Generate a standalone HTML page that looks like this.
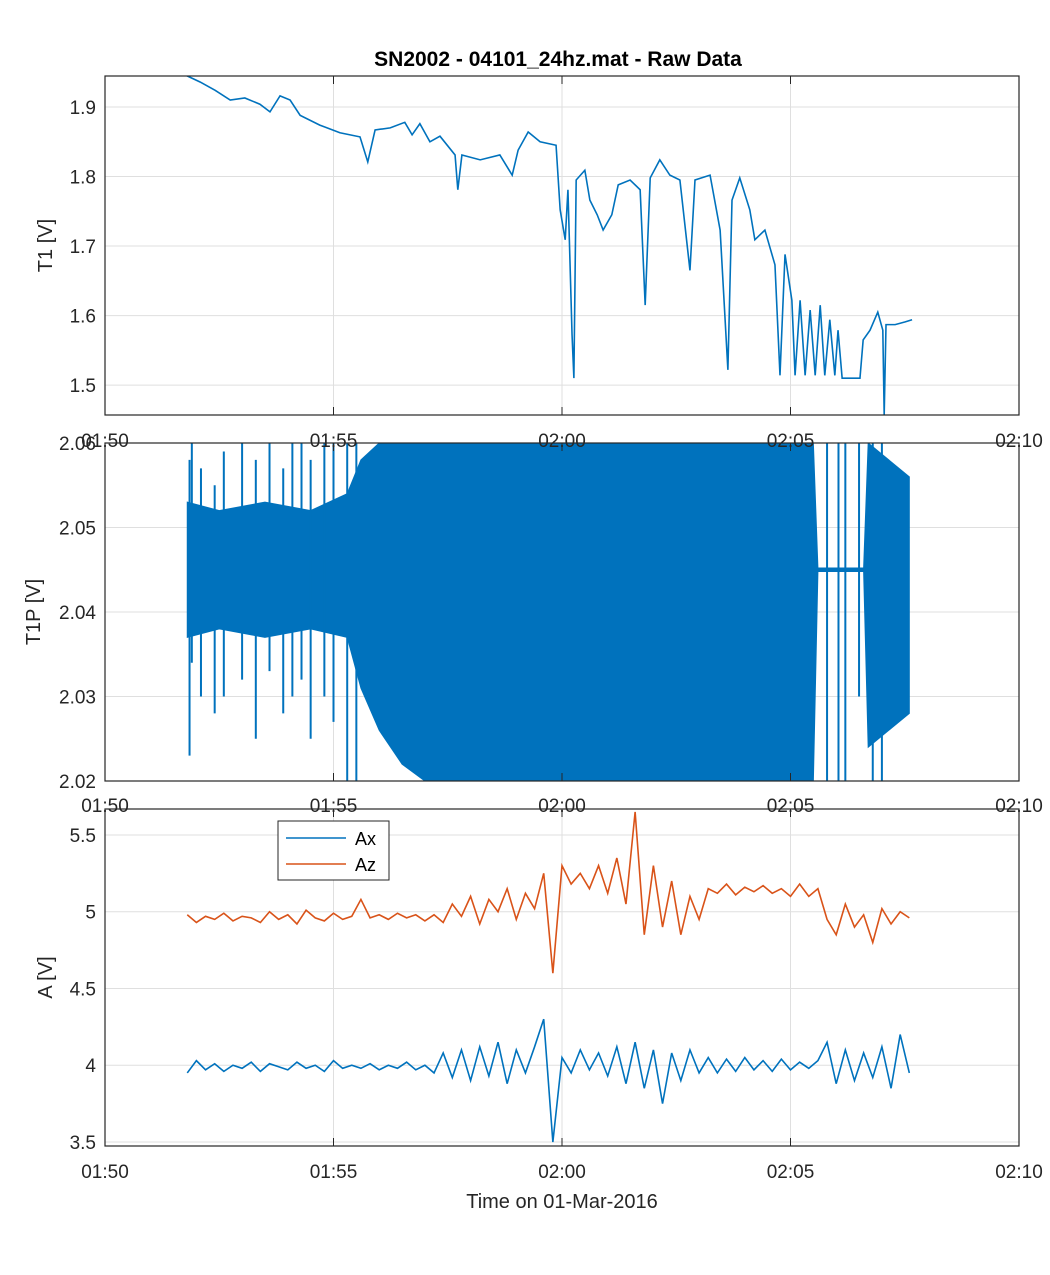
<!DOCTYPE html>
<html><head><meta charset="utf-8"><style>
body{margin:0;background:#fff}
svg{display:block;font-family:"Liberation Sans",sans-serif}
</style></head><body>
<svg id="chart" width="1050" height="1275" xmlns="http://www.w3.org/2000/svg">
<rect width="1050" height="1275" fill="#fff"/>
<text x="558" y="66" text-anchor="middle" font-size="21" font-weight="bold" fill="#000">SN2002 - 04101_24hz.mat - Raw Data</text>
<g id="layer"></g>
</svg>
<script>
// ---- data (time in minutes after 01:50) ----
const xTickLabels = ["01:50","01:55","02:00","02:05","02:10"];
const xTickVals = [0,5,10,15,20];
// Panel 1 T1
const t1Times = [1.79,2.08,2.41,2.74,3.06,3.39,3.61,3.83,4.05,4.27,4.70,5.14,5.58,5.75,5.91,6.24,6.56,6.72,6.89,7.11,7.33,7.66,7.72,7.81,8.21,8.64,8.91,9.04,9.26,9.52,9.87,9.96,10.07,10.13,10.22,10.26,10.31,10.50,10.61,10.77,10.90,11.09,11.23,11.49,11.71,11.82,11.93,12.14,12.36,12.58,12.80,12.91,13.24,13.46,13.63,13.72,13.89,14.11,14.22,14.44,14.66,14.77,14.88,15.03,15.10,15.21,15.32,15.43,15.54,15.65,15.75,15.86,15.97,16.04,16.13,16.52,16.59,16.74,16.91,17.02,17.05,17.09,17.29,17.51,17.66];
const t1Values = [1.945,1.936,1.924,1.910,1.913,1.904,1.893,1.916,1.910,1.888,1.874,1.863,1.857,1.821,1.867,1.870,1.878,1.860,1.876,1.850,1.858,1.831,1.781,1.831,1.824,1.831,1.802,1.838,1.864,1.850,1.845,1.752,1.709,1.781,1.572,1.510,1.795,1.809,1.766,1.745,1.723,1.745,1.788,1.795,1.781,1.615,1.798,1.824,1.802,1.795,1.665,1.795,1.802,1.723,1.522,1.766,1.798,1.752,1.709,1.723,1.673,1.514,1.688,1.622,1.514,1.622,1.514,1.608,1.514,1.615,1.514,1.594,1.514,1.579,1.510,1.510,1.565,1.579,1.605,1.579,1.457,1.587,1.587,1.591,1.594];
const t1Ticks = [1.5,1.6,1.7,1.8,1.9];
// Panel 2 T1P envelope
const t1pTimes = [1.8,2.5,3.5,4.5,5.3,5.6,6.0,6.5,7.0,10,15.5,15.6,16.6,16.7,17.6];
const t1pLow  = [2.037,2.038,2.037,2.038,2.037,2.031,2.026,2.022,2.02,2.02,2.02,2.0448,2.0448,2.024,2.028];
const t1pHigh = [2.053,2.052,2.053,2.052,2.054,2.058,2.06,2.06,2.06,2.06,2.06,2.0452,2.0452,2.06,2.056];
const t1pSpikeT  = [1.85,1.9,2.1,2.4,2.6,3.0,3.3,3.6,3.9,4.1,4.3,4.5,4.8,5.0,5.3,5.5,15.8,16.05,16.2,16.5,16.8,17.0];
const t1pSpikeLo = [2.023,2.034,2.03,2.028,2.03,2.032,2.025,2.033,2.028,2.03,2.032,2.025,2.03,2.027,2.02,2.02,2.02,2.02,2.02,2.03,2.02,2.02];
const t1pSpikeHi = [2.058,2.06,2.057,2.055,2.059,2.06,2.058,2.06,2.057,2.06,2.06,2.058,2.06,2.06,2.06,2.06,2.06,2.06,2.06,2.06,2.06,2.06];
const t1pTicks = [2.02,2.03,2.04,2.05,2.06];
// Panel 3 accelerations (sampled every 0.2 min from 1.8)
const accStart = 1.8, accStep = 0.2;
const azValues = [4.98,4.93,4.97,4.95,4.99,4.94,4.97,4.96,4.93,5.0,4.95,4.98,4.92,5.01,4.96,4.94,4.99,4.95,4.97,
5.08,4.96,4.98,4.95,4.99,4.96,4.98,4.94,
4.98,4.93,5.05,4.97,5.1,4.92,5.08,5.0,5.15,4.95,5.12,5.02,
5.25,4.6,
5.3,5.18,5.25,5.15,5.3,5.12,
5.35,5.05,5.65,4.85,5.3,4.9,5.2,
4.85,5.1,4.95,
5.15,5.12,5.18,5.11,5.16,5.13,5.17,5.12,5.15,5.1,
5.18,5.1,5.15,
4.95,4.85,5.05,4.9,4.98,4.8,5.02,4.92,5.0,4.96];
const axValues = [3.95,4.03,3.97,4.01,3.96,4.0,3.98,4.02,3.96,4.01,3.99,3.97,4.02,3.98,4.0,3.96,4.03,3.98,4.0,
3.98,4.01,3.97,4.0,3.98,4.02,3.97,4.0,
3.95,4.08,3.92,4.1,3.9,4.12,3.93,4.15,3.88,4.1,3.95,4.12,
4.3,3.5,
4.05,3.95,4.1,3.97,4.08,3.93,
4.12,3.88,4.15,3.85,4.1,3.75,4.08,
3.9,4.1,3.95,
4.05,3.95,4.04,3.96,4.05,3.97,4.03,3.96,4.04,3.97,
4.02,3.98,4.03,
4.15,3.88,4.1,3.9,4.08,3.92,4.12,3.85,4.2,3.95];
const aTicks = [3.5,4,4.5,5,5.5];
const aTickLabels = ["3.5","4","4.5","5","5.5"];

const NS="http://www.w3.org/2000/svg";
const layer=document.getElementById('layer');
const X0=105,X1=1019;
const xs=t=>X0+(t/20)*(X1-X0);
function mk(tag,at,parent){const e=document.createElementNS(NS,tag);for(const k in at)e.setAttribute(k,at[k]);(parent||layer).appendChild(e);return e;}
function panel(top,bot,vmin,vmax,ticks,labels,ylabel,ylx,name){
  const ys=v=>bot-(v-vmin)/(vmax-vmin)*(bot-top);
  const g=mk('g',{});
  
  
  xTickVals.forEach(t=>{const l=mk('line',{x1:xs(t),x2:xs(t),y1:top,y2:bot,stroke:'#dfdfdf','stroke-width':1},g);
    });
  ticks.forEach(v=>{const l=mk('line',{x1:X0,x2:X1,y1:ys(v),y2:ys(v),stroke:'#dfdfdf','stroke-width':1},g);
    });
  ticks.forEach((v,i)=>{const tx=mk('text',{x:X0-9,y:ys(v)+7,'text-anchor':'end','font-size':19,fill:'#262626'},g);tx.textContent=labels[i];
    });
  const yl=mk('text',{x:ylx,y:(top+bot)/2,'text-anchor':'middle','font-size':20,fill:'#262626',transform:`rotate(-90 ${ylx} ${(top+bot)/2})`},g);
  yl.textContent=ylabel;
  return {ys,top,bot,g};
}
function frame(p){
  const r=mk('rect',{x:X0,y:p.top,width:X1-X0,height:p.bot-p.top,fill:'none',stroke:'#262626','stroke-width':1.2});
  
  xTickVals.forEach(t=>{mk('line',{x1:xs(t),x2:xs(t),y1:p.bot,y2:p.bot-8,stroke:'#262626'});mk('line',{x1:xs(t),x2:xs(t),y1:p.top,y2:p.top+8,stroke:'#262626'});});
}
function xlabels(y){xTickVals.forEach((t,i)=>{const tx=mk('text',{x:xs(t),y:y,'text-anchor':'middle','font-size':19,fill:'#262626'});tx.textContent=xTickLabels[i];
  });}
function clip(id,p){const c=mk('clipPath',{id:id});mk('rect',{x:X0,y:p.top,width:X1-X0,height:p.bot-p.top},c);}

// Panel 1
const p1=panel(76,415,1.457,1.9446,t1Ticks,t1Ticks.map(v=>v.toFixed(1)),'T1 [V]',52,'t1');
clip('c1',p1);
const l1=mk('polyline',{points:t1Times.map((t,i)=>xs(t)+','+p1.ys(t1Values[i])).join(' '),fill:'none',stroke:'#0072BD','stroke-width':1.6,'clip-path':'url(#c1)'});

frame(p1);
// Panel 2
const p2=panel(443,781,2.02,2.06,t1pTicks,t1pTicks.map(v=>v.toFixed(2)),'T1P [V]',40,'t1p');
clip('c2',p2);
const pts=t1pTimes.map((t,i)=>xs(t)+','+p2.ys(t1pHigh[i])).concat(t1pTimes.slice().reverse().map((t,j)=>{const i=t1pTimes.length-1-j;return xs(t)+','+p2.ys(t1pLow[i]);}));
const band=mk('polygon',{points:pts.join(' '),fill:'#0072BD',stroke:'#0072BD','stroke-width':1,'clip-path':'url(#c2)'});

t1pSpikeT.forEach((t,i)=>{const s=mk('line',{x1:xs(t),x2:xs(t),y1:p2.ys(t1pSpikeLo[i]),y2:p2.ys(t1pSpikeHi[i]),stroke:'#0072BD','stroke-width':2,'clip-path':'url(#c2)'});
  });
frame(p2);
xlabels(447);
// Panel 3
const p3=panel(809,1146,3.474,5.669,aTicks,aTickLabels,'A [V]',52,'accel');
clip('c3',p3);
const az=mk('polyline',{points:azValues.map((v,i)=>xs(accStart+i*accStep)+','+p3.ys(v)).join(' '),fill:'none',stroke:'#D95319','stroke-width':1.6,'clip-path':'url(#c3)'});

const ax=mk('polyline',{points:axValues.map((v,i)=>xs(accStart+i*accStep)+','+p3.ys(v)).join(' '),fill:'none',stroke:'#0072BD','stroke-width':1.6,'clip-path':'url(#c3)'});

frame(p3);
xlabels(812);
xlabels(1178);
const xt=mk('text',{x:562,y:1208,'text-anchor':'middle','font-size':20,fill:'#262626'});xt.textContent='Time on 01-Mar-2016';

// Legend
const lg=mk('g',{});

mk('rect',{x:278,y:821,width:111,height:59,fill:'#fff',stroke:'#262626','stroke-width':1},lg);
[['Ax','#0072BD',838],['Az','#D95319',864]].forEach(([n,c,y])=>{
  const e=mk('g',{},lg);
  mk('line',{x1:286,x2:346,y1:y,y2:y,stroke:c,'stroke-width':1.6},e);
  const t=mk('text',{x:355,y:y+7,'font-size':18,fill:'#000'},e);t.textContent=n;});
</script>
</body></html>
